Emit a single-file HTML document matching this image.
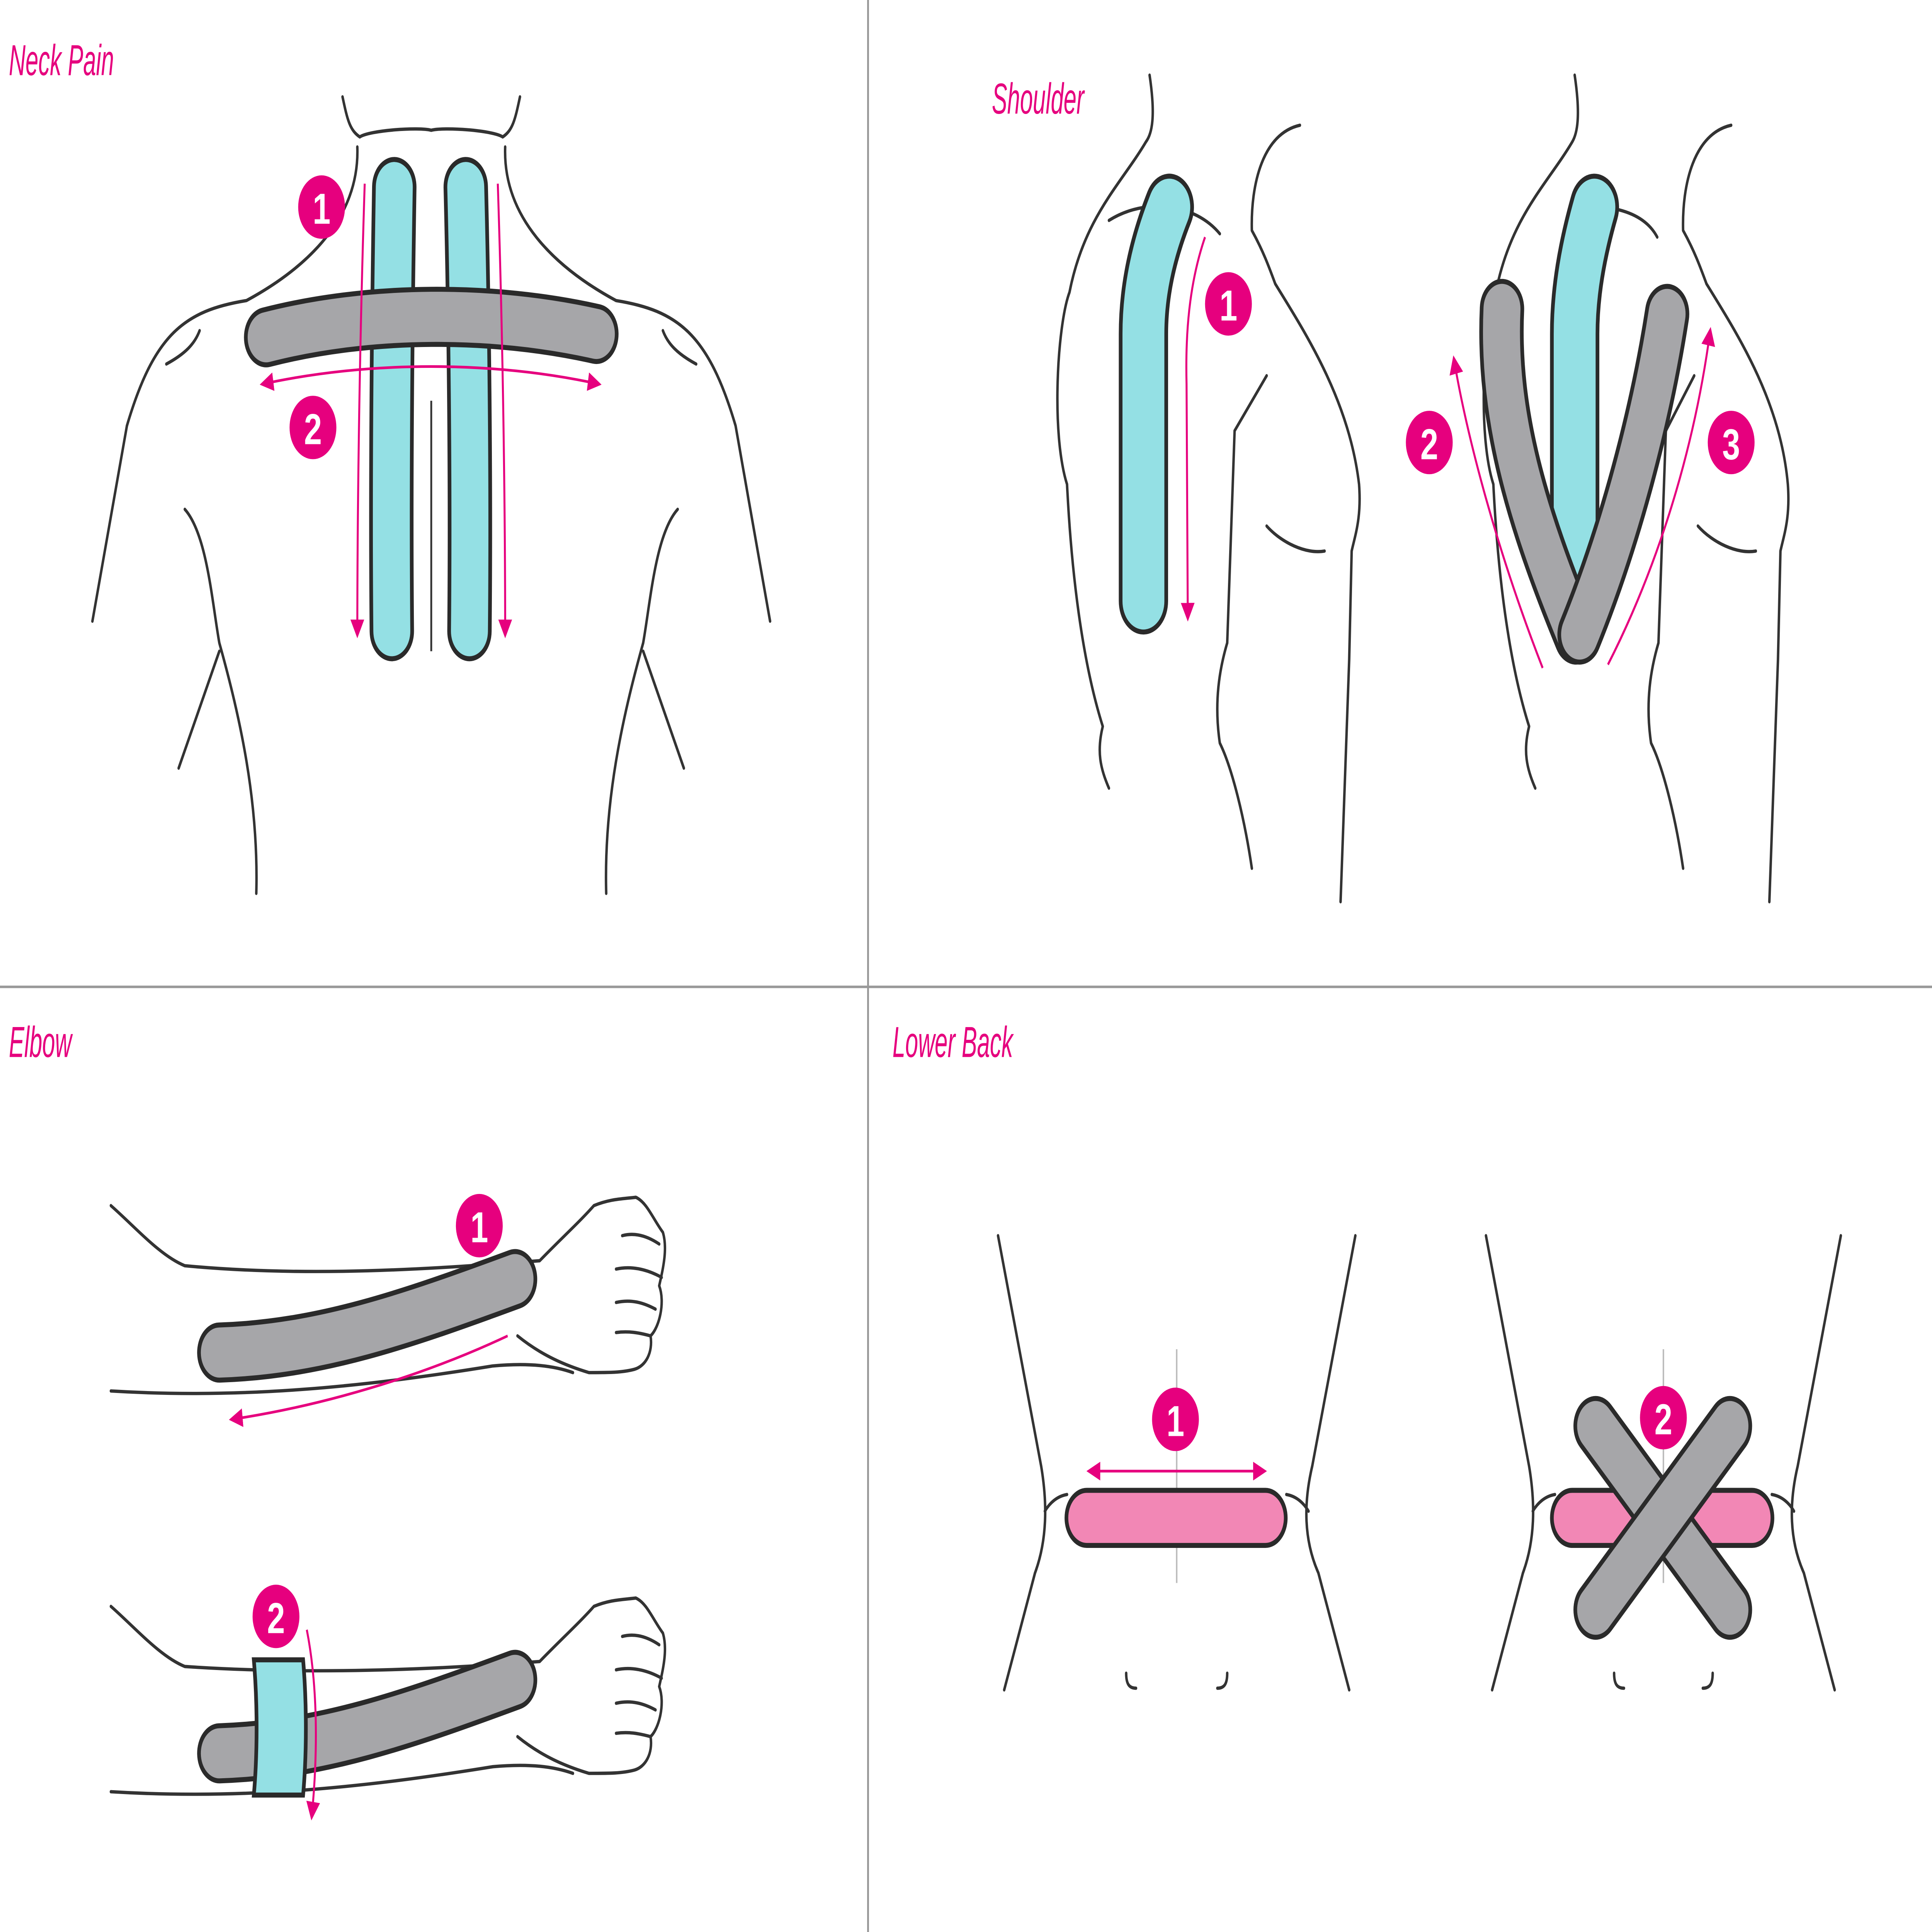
<!DOCTYPE html>
<html><head><meta charset="utf-8"><style>
html,body{margin:0;padding:0;background:#fff;width:100vw;height:100vh;overflow:hidden;}
svg{display:block;position:fixed;left:0;top:0;width:100vw;height:100vh;}
.o{fill:none;stroke:#333;stroke-width:2;stroke-linecap:round;stroke-linejoin:round;}
.t{fill:none;stroke-linecap:round;stroke-linejoin:round;}
.a{fill:none;stroke:#e6007e;stroke-width:1.6;}
.ttl{font-family:"Liberation Sans",sans-serif;font-style:italic;font-size:26px;fill:#e6007e;}
.n{font-family:"Liberation Sans",sans-serif;font-weight:bold;font-size:26px;fill:#fff;text-anchor:middle;}
</style></head><body>
<svg viewBox="0 0 1568 1157" preserveAspectRatio="none" xmlns="http://www.w3.org/2000/svg">
<defs>
<marker id="ah" viewBox="0 0 10 10" refX="8" refY="5" markerWidth="7" markerHeight="7" orient="auto-start-reverse"><path d="M0,0 L10,5 L0,10 z" fill="#e6007e"/></marker>
</defs>
<rect width="1568" height="1157" fill="#fff"/>
<line x1="704.5" y1="0" x2="704.5" y2="1157" stroke="#999" stroke-width="1.5"/>
<line x1="0" y1="591" x2="1568" y2="591" stroke="#999" stroke-width="1.5"/>

<text class="ttl" x="10" y="45" transform="scale(0.72,1)">Neck Pain</text>
<text class="ttl" x="1118" y="68" transform="scale(0.72,1)">Shoulder</text>
<text class="ttl" x="10" y="633" transform="scale(0.72,1)">Elbow</text>
<text class="ttl" x="1006" y="633" transform="scale(0.72,1)">Lower Back</text>

<!-- NECK PAIN -->
<path class="o" d="M278,58 C282,72 284,78 292,82 M292,82 C300,78 340,76 350,78 C360,76 400,78 408,82 C416,78 418,72 422,58"/>
<path class="o" d="M290,88 C292,130 250,160 200,180 C150,186 125,200 103,255 L75,372"/>
<path class="o" d="M410,88 C408,130 450,160 500,180 C550,186 575,200 597,255 L625,372"/>
<path class="o" d="M135,218 C150,212 158,206 162,198 M565,218 C550,212 542,206 538,198"/>
<path class="o" d="M150,305 C168,320 172,360 178,385 C195,430 210,480 208,535 M145,460 L178,390"/>
<path class="o" d="M550,305 C532,320 528,360 522,385 C505,430 490,480 492,535 M555,460 L522,390"/>
<line x1="350" y1="240" x2="350" y2="390" stroke="#333" stroke-width="1.5"/>
<path class="t" d="M320,112 C318,200 317,300 318,378" stroke="#2a2a2a" stroke-width="36"/>
<path class="t" d="M320,112 C318,200 317,300 318,378" stroke="#94e0e4" stroke-width="30"/>
<path class="t" d="M378,112 C381,200 382,300 381,378" stroke="#2a2a2a" stroke-width="36"/>
<path class="t" d="M378,112 C381,200 382,300 381,378" stroke="#94e0e4" stroke-width="30"/>
<path class="t" d="M216,202 C300,186 400,186 484,200" stroke="#2a2a2a" stroke-width="36"/>
<path class="t" d="M216,202 C300,186 400,186 484,200" stroke="#a6a6a9" stroke-width="30"/>
<path class="a" d="M296,110 C292,200 290,300 290,380" marker-end="url(#ah)"/>
<path class="a" d="M404,110 C408,200 410,300 410,380" marker-end="url(#ah)"/>
<path class="a" d="M213,230 C300,216 400,216 486,230" marker-start="url(#ah)" marker-end="url(#ah)"/>
<circle cx="261" cy="124" r="19" fill="#e6007e"/><text class="n" x="261" y="134">1</text>
<circle cx="254" cy="256" r="19" fill="#e6007e"/><text class="n" x="254" y="266">2</text>

<!-- SHOULDER fig1 -->
<path class="o" d="M933,45 C938,70 935,80 930,85 C910,110 880,130 868,175 C858,195 853,260 866,290 C870,350 880,400 895,435 C890,450 893,460 900,472"/>
<path class="o" d="M900,132 C930,118 970,122 990,140"/>
<path class="o" d="M1055,75 C1025,80 1015,110 1016,138 C1025,150 1030,160 1035,170 C1060,200 1095,240 1103,290 C1105,310 1100,320 1097,330 L1095,395 L1088,540"/>
<path class="o" d="M1028,225 L1002,258 L996,385 C990,400 985,420 990,445 C1000,460 1010,490 1016,520"/>
<path class="o" d="M1028,315 C1040,325 1060,332 1075,330"/>
<path class="t" d="M949,124 C935,150 928,175 928,200 L928,360" stroke="#2a2a2a" stroke-width="40"/>
<path class="t" d="M949,124 C935,150 928,175 928,200 L928,360" stroke="#94e0e4" stroke-width="34"/>
<path class="a" d="M978,142 C965,170 962,200 963,230 L964,370" marker-end="url(#ah)"/>
<circle cx="997" cy="182" r="19" fill="#e6007e"/><text class="n" x="997" y="192">1</text>

<!-- SHOULDER fig2 -->
<path class="o" d="M1278,45 C1283,70 1280,80 1276,85 C1256,110 1226,130 1214,175 C1204,195 1199,260 1212,290 C1216,350 1226,400 1241,435 C1236,450 1239,460 1246,472"/>
<path class="o" d="M1310,125 C1330,128 1340,135 1345,142"/>
<path class="o" d="M1405,75 C1375,80 1365,110 1366,138 C1375,150 1380,160 1385,170 C1410,200 1445,240 1451,290 C1453,310 1448,320 1445,330 L1443,395 L1436,540"/>
<path class="o" d="M1375,225 L1352,258 L1346,385 C1340,400 1335,420 1340,445 C1350,460 1360,490 1366,520"/>
<path class="o" d="M1378,315 C1390,325 1410,332 1425,330"/>
<path class="t" d="M1294,124 C1284,150 1278,175 1278,200 L1278,330" stroke="#2a2a2a" stroke-width="40"/>
<path class="t" d="M1294,124 C1284,150 1278,175 1278,200 L1278,330" stroke="#94e0e4" stroke-width="34"/>
<path class="t" d="M1219,185 C1215,250 1240,310 1279,380" stroke="#2a2a2a" stroke-width="36"/>
<path class="t" d="M1219,185 C1215,250 1240,310 1279,380" stroke="#a6a6a9" stroke-width="30"/>
<path class="t" d="M1353,188 C1340,250 1315,320 1282,380" stroke="#2a2a2a" stroke-width="36"/>
<path class="t" d="M1353,188 C1340,250 1315,320 1282,380" stroke="#a6a6a9" stroke-width="30"/>
<path class="a" d="M1252,400 C1215,330 1190,260 1180,215" marker-end="url(#ah)"/>
<path class="a" d="M1305,398 C1345,340 1375,270 1388,198" marker-end="url(#ah)"/>
<circle cx="1160" cy="265" r="19" fill="#e6007e"/><text class="n" x="1160" y="275">2</text>
<circle cx="1405" cy="265" r="19" fill="#e6007e"/><text class="n" x="1405" y="275">3</text>

<!-- ELBOW arm1 -->
<path class="o" d="M90,722 C110,735 130,752 150,758 C250,765 350,760 438,755 C455,742 470,732 482,722 C495,718 505,718 516,717 C525,720 530,730 538,738 C542,748 538,760 535,770 C540,780 535,795 528,800 C530,810 524,818 515,820 C505,822 495,822 478,822 C460,818 440,812 420,800"/>
<path class="o" d="M90,833 C200,838 300,830 400,818 C430,816 450,818 465,822"/>
<path class="o" d="M505,740 C515,738 525,740 535,745 M500,760 C512,758 525,760 537,765 M500,780 C512,778 522,780 532,784 M500,798 C510,797 518,798 528,800"/>
<path class="t" d="M178,810 C260,808 330,790 418,766" stroke="#2a2a2a" stroke-width="36"/>
<path class="t" d="M178,810 C260,808 330,790 418,766" stroke="#a6a6a9" stroke-width="30"/>
<path class="a" d="M412,800 C340,825 260,842 188,850" marker-end="url(#ah)"/>
<circle cx="389" cy="734" r="19" fill="#e6007e"/><text class="n" x="389" y="744">1</text>

<!-- ELBOW arm2 -->
<path class="o" d="M90,962 C110,975 130,992 150,998 C250,1003 350,1000 438,995 C455,982 470,972 482,962 C495,958 505,958 516,957 C525,960 530,970 538,978 C542,988 538,1000 535,1010 C540,1020 535,1035 528,1040 C530,1050 524,1058 515,1060 C505,1062 495,1062 478,1062 C460,1058 440,1052 420,1040"/>
<path class="o" d="M90,1073 C200,1078 300,1070 400,1058 C430,1056 450,1058 465,1062"/>
<path class="o" d="M505,980 C515,978 525,980 535,985 M500,1000 C512,998 525,1000 537,1005 M500,1020 C512,1018 522,1020 532,1024 M500,1038 C510,1037 518,1038 528,1040"/>
<path class="t" d="M178,1050 C260,1048 330,1030 418,1006" stroke="#2a2a2a" stroke-width="36"/>
<path class="t" d="M178,1050 C260,1048 330,1030 418,1006" stroke="#a6a6a9" stroke-width="30"/>
<path d="M206,994 L246,994 C249,1020 249,1050 246,1075 L206,1075 C209,1050 209,1020 206,994 Z" fill="#94e0e4" stroke="#2a2a2a" stroke-width="3"/>
<path class="a" d="M249,976 C258,1010 258,1050 253,1088" marker-end="url(#ah)"/>
<circle cx="224" cy="968" r="19" fill="#e6007e"/><text class="n" x="224" y="978">2</text>

<!-- LOWER BACK 1 -->
<path class="o" d="M810,740 L845,878 C850,900 850,922 840,942 L815,1012"/>
<path class="o" d="M1100,740 L1065,878 C1058,900 1058,922 1070,942 L1095,1012"/>
<path class="o" d="M848,905 C852,900 858,896 866,895 M1062,905 C1058,900 1052,896 1044,895"/>
<line x1="955" y1="808" x2="955" y2="948" stroke="#bbb" stroke-width="1.2"/>
<path class="o" d="M914,1002 C914,1008 916,1011 922,1011 M996,1002 C996,1008 994,1011 988,1011" stroke-width="1.3"/>
<path class="t" d="M882,909 L1027,909" stroke="#2a2a2a" stroke-width="36"/>
<path class="t" d="M882,909 L1027,909" stroke="#f287b5" stroke-width="30"/>
<path class="a" d="M884,881 L1026,881" marker-start="url(#ah)" marker-end="url(#ah)"/>
<circle cx="954" cy="850" r="19" fill="#e6007e"/><text class="n" x="954" y="860">1</text>

<!-- LOWER BACK 2 -->
<path class="o" d="M1206,740 L1241,878 C1246,900 1246,922 1236,942 L1211,1012"/>
<path class="o" d="M1494,740 L1459,878 C1452,900 1452,922 1464,942 L1489,1012"/>
<path class="o" d="M1244,905 C1248,900 1254,896 1262,895 M1456,905 C1452,900 1446,896 1438,895"/>
<line x1="1350" y1="808" x2="1350" y2="948" stroke="#bbb" stroke-width="1.2"/>
<path class="o" d="M1310,1002 C1310,1008 1312,1011 1318,1011 M1390,1002 C1390,1008 1388,1011 1382,1011" stroke-width="1.3"/>
<path class="t" d="M1276,909 L1422,909" stroke="#2a2a2a" stroke-width="36"/>
<path class="t" d="M1276,909 L1422,909" stroke="#f287b5" stroke-width="30"/>
<path class="t" d="M1295,854 L1404,964" stroke="#2a2a2a" stroke-width="36"/>
<path class="t" d="M1295,854 L1404,964" stroke="#a6a6a9" stroke-width="30"/>
<path class="t" d="M1404,854 L1295,964" stroke="#2a2a2a" stroke-width="36"/>
<path class="t" d="M1404,854 L1295,964" stroke="#a6a6a9" stroke-width="30"/>
<circle cx="1350" cy="849" r="19" fill="#e6007e"/><text class="n" x="1350" y="859">2</text>
</svg>
</body></html>
